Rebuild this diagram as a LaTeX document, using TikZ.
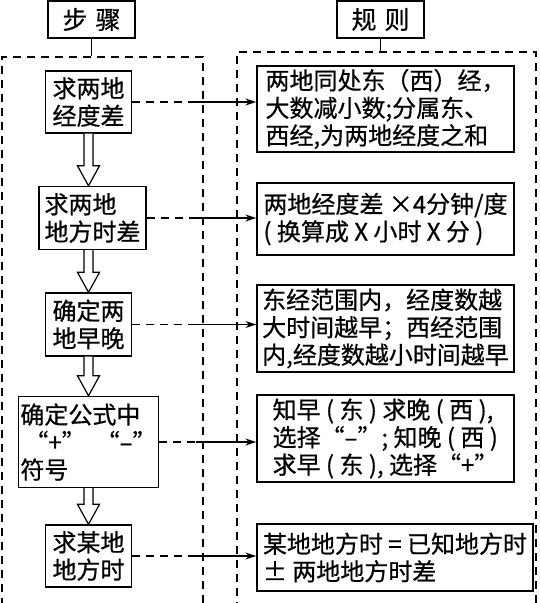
\documentclass[tikz,border=0pt]{standalone}
\usepackage{fontspec}
\setmainfont{Noto Sans CJK SC}[FakeBold=0.6]
\usetikzlibrary{calc,arrows.meta}

\tikzset{
  stepbox/.style={draw, line width=1.4pt, align=left, inner sep=2pt},
  frame/.style={draw, line width=1.2pt, dash pattern=on 8pt off 6pt},
  link/.style={line width=1.2pt, dash pattern=on 8pt off 6pt},
}

\begin{document}
\begin{tikzpicture}[x=1pt, y=-1pt, font=\fontsize{24}{27.5}\selectfont]
	\useasboundingbox (0,0) rectangle (540,603);
	\clip (0,0) rectangle (540,603);

	% dashed frames
	\node [frame, minimum width=201pt, minimum height=583pt] (stepframe) at (102.5,348.5) {};
	\node [frame, minimum width=299pt, minimum height=588pt] (ruleframe) at (386.5,346) {};

	% headers
	\node [stepbox, fill=white, minimum width=87pt, minimum height=37pt, font=\fontsize{25}{28}\selectfont] (steps) at (91.5,19.5) {步\hspace{8pt}骤};
	\node [stepbox, fill=white, minimum width=87pt, minimum height=37pt, font=\fontsize{25}{28}\selectfont] (rules) at (380.5,19.5) {规\hspace{8pt}则};
	\draw [line width=1.2pt] (steps.south) -- (steps.south |- stepframe.north);
	\draw [line width=1.2pt] (rules.south) -- (rules.south |- ruleframe.north);

	% steps
	\node [stepbox, minimum width=86pt, minimum height=62pt] (s1) at (88.5,102) {求两地\\经度差};
	\node [stepbox, minimum width=107pt, minimum height=63pt] (s2) at (92.5,218) {求两地\\地方时差};
	\node [stepbox, minimum width=86pt, minimum height=63pt] (s3) at (88.5,324.5) {确定两\\地早晚};
	\node [stepbox, minimum width=139pt, minimum height=91pt] (s4) at (88.5,442) {确定公式中\\\,“+”\hspace{10pt}“–”\\符号};
	\node [stepbox, minimum width=86pt, minimum height=62pt] (s5) at (88.5,556) {求某地\\地方时};

	% rules
	\node [stepbox, minimum width=257pt, minimum height=86pt] (r1) at (385.5,109) {两地同处东（西）经，\\大数减小数;分属东、\\西经,为两地经度之和};
	\node [stepbox, minimum width=257pt, minimum height=72pt] (r2) at (385.5,219) {两地经度差 ×4分钟/度\\( 换算成 X 小时 X 分 )};
	\node [stepbox, minimum width=257pt, minimum height=87pt] (r3) at (385.5,328.5) {东经范围内，经度数越\\大时间越早；西经范围\\内,经度数越小时间越早};
	\node [stepbox, minimum width=257pt, minimum height=87pt] (r4) at (385.5,438.5) {知早 ( 东 ) 求晚 ( 西 ),\\选择“–”; 知晚 ( 西 )\\求早 ( 东 ), 选择“+”};
	\node [stepbox, minimum width=276pt, minimum height=67pt] (r5) at (395,557.5) {某地地方时 = 已知地方时\\± 两地地方时差};

	% hollow arrows between steps
	\foreach \a/\b in {s1/s2,s2/s3,s3/s4,s4/s5}
	    \draw [line width=1.2pt, fill=white]
	        ($(\a.south -| s1)+(-4.5,0)$) -- ($(\b.north -| s1)+(-4.5,-20)$)
	        -- ($(\b.north -| s1)+(-11,-20)$) -- (\b.north -| s1)
	        -- ($(\b.north -| s1)+(11,-20)$) -- ($(\b.north -| s1)+(4.5,-20)$)
	        -- ($(\a.south -| s1)+(4.5,0)$);

	% links from steps to rules
	\coordinate (split) at (196,0);
	\foreach \i in {1,...,5} {
	    \draw [link] (s\i.east) -- (s\i.east -| split);
	    \draw [line width=1.2pt, -{Stealth[length=11pt,width=7pt]}] (s\i.east -| split) -- (s\i.east -| r\i.west);
	}
\end{tikzpicture}
\end{document}
